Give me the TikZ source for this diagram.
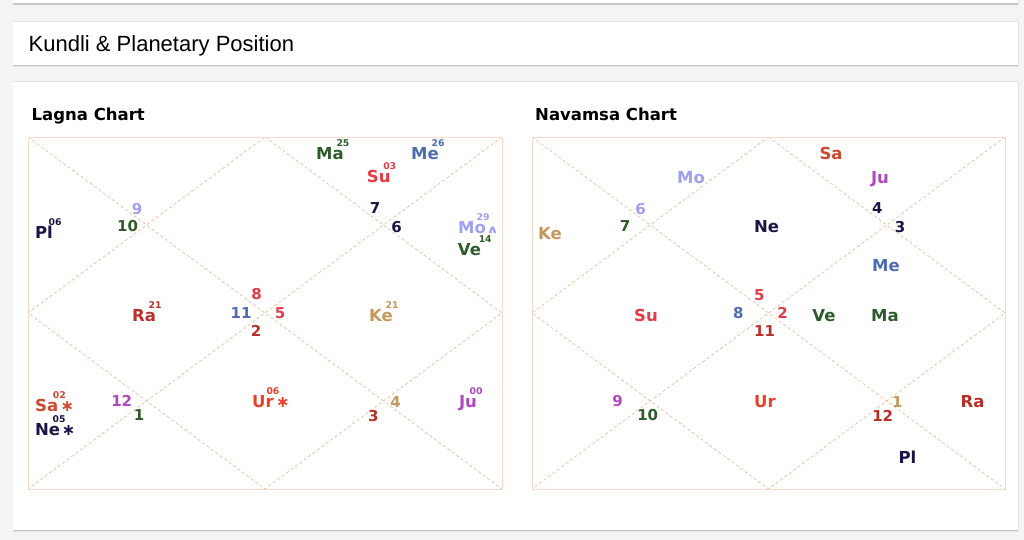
\documentclass[tikz,border=0pt]{standalone}
\usepackage{fontspec}
\setmainfont{DejaVu Sans}
\newfontfamily\hdrfont{Liberation Sans}
\definecolor{bgc}{HTML}{F4F4F4}
\definecolor{shd}{HTML}{C6C6C6}
\definecolor{shd2}{HTML}{E4E4E4}
\definecolor{frame}{HTML}{F8DCCB}
\definecolor{dash}{HTML}{F0C2A2}
\definecolor{navy}{HTML}{1C1446}
\definecolor{dgreen}{HTML}{2E5B2A}
\definecolor{pblue}{HTML}{4D6CB0}
\definecolor{pred}{HTML}{E23C48}
\definecolor{ured}{HTML}{E8402A}
\definecolor{sred}{HTML}{D04830}
\definecolor{dred}{HTML}{B8302A}
\definecolor{lpur}{HTML}{A0A0F0}
\definecolor{tan}{HTML}{C4975A}
\definecolor{ppur}{HTML}{B048C0}
\newcommand{\Pnum}[4]{\node[num,text=#3] (#1) at (#2) {#4};}
\newcommand{\Pplan}[6][-1pt]{\node[pl,text=#3] (#2) at (#4) {#5};\node[sup,text=#3] (#2s) at ([xshift=#1,yshift=0.5pt]#2.north east) {#6};}
\begin{document}
\begin{tikzpicture}[x=1pt,y=-1pt,
  pl/.style={font=\fontsize{16.5}{16.5}\selectfont\bfseries,inner sep=0pt,text height=12pt,text depth=0pt,anchor=center},
  num/.style={font=\fontsize{15}{15}\selectfont\bfseries,inner sep=0pt,text height=11pt,text depth=0pt,anchor=center},
  sup/.style={font=\fontsize{9.3}{9.3}\selectfont\bfseries,inner sep=0pt,text height=6.6pt,text depth=0pt,anchor=south},
  ast/.style={font=\fontsize{16}{16}\selectfont\bfseries,inner sep=0pt,anchor=base west},
  ttl/.style={font=\fontsize{16.5}{16.5}\selectfont\bfseries,inner sep=0pt,anchor=base west,text=black},
  card/.style={fill=white},
  frm/.style={draw=frame,line width=0.9pt},
  dsh/.style={draw=dash,line width=0.8pt,dash pattern=on 3pt off 2.5pt}]
\fill[bgc] (0,0) rectangle (1024,540);
\useasboundingbox (0,0) rectangle (1024,540);
% cards
\fill[shd2] (12.5,-10) rectangle (1018.5,5.5);
\fill[shd] (13,-10) rectangle (1018,5);
\fill[card] (13,-10) rectangle (1018,3.5);
\fill[shd2] (12.5,21.5) rectangle (1018.5,67);
\fill[shd] (13,22) rectangle (1018,66.5);
\fill[card] (13,22) rectangle (1018,65);
\fill[shd2] (12.5,81.5) rectangle (1018.5,531.5);
\fill[shd] (13,82) rectangle (1018,531);
\fill[card] (13,82) rectangle (1018,529.5);
\node[font=\hdrfont\fontsize{22}{22}\selectfont,inner sep=0pt,anchor=base west] (hdr) at (28.5,51.5) {Kundli \& Planetary Position};
% titles
\node[ttl] (t1) at (31.5,120.5) {Lagna Chart};
\node[ttl] (t2) at (535,120.5) {Navamsa Chart};
% chart geometry
\foreach \c/\xa/\xb in {L/28/502,R/532/1005}{
  \coordinate (\c-nw) at (\xa,137);
  \coordinate (\c-ne) at (\xb,137);
  \coordinate (\c-sw) at (\xa,489);
  \coordinate (\c-se) at (\xb,489);
  \coordinate (\c-n) at ({(\xa+\xb)/2},137);
  \coordinate (\c-s) at ({(\xa+\xb)/2},489);
  \coordinate (\c-w) at (\xa,313);
  \coordinate (\c-e) at (\xb,313);
  \draw[dsh] (\c-nw) -- (\c-se);
  \draw[dsh] (\c-ne) -- (\c-sw);
  \draw[dsh] (\c-n) -- (\c-e) -- (\c-s) -- (\c-w) -- cycle;
  \draw[frm] (\c-nw) rectangle (\c-se);
}
% Lagna numbers
\Pnum{l9}{137,209}{lpur}{9}
\Pnum{l10}{127.5,226}{dgreen}{10}
\Pnum{l8}{256.5,294}{pred}{8}
\Pnum{l11}{241,313.3}{pblue}{11}
\Pnum{l5}{280,313.3}{pred}{5}
\Pnum{l2}{256,330.7}{dred}{2}
\Pnum{l7}{375,208.3}{navy}{7}
\Pnum{l6}{396.7,227.3}{navy}{6}
\Pnum{l12}{121.7,400.7}{ppur}{12}
\Pnum{l1}{139,415}{dgreen}{1}
\Pnum{l3}{373.3,416}{dred}{3}
\Pnum{l4}{395.5,401.5}{tan}{4}
% Lagna planets
\Pplan[2pt]{lpl}{navy}{44,232.5}{Pl}{06}
\Pplan{lma}{dgreen}{330,153.3}{Ma}{25}
\Pplan{lme}{pblue}{425,153.3}{Me}{26}
\Pplan{lsu}{pred}{378.7,176.7}{Su}{03}
\Pplan[-3pt]{lmo}{lpur}{472,227}{Mo}{29}
\node[font=\fontsize{12}{12}\selectfont\bfseries,inner sep=0pt,anchor=base west,text=lpur] (lmor) at ([xshift=0.3pt]lmo.base east) {\scalebox{1.25}[0.9]{∧}};
\Pplan[4pt]{lve}{dgreen}{469.5,249}{Ve}{14}
\Pplan{lra}{dred}{144,315}{Ra}{21}
\Pplan{lke}{tan}{381,315}{Ke}{21}
\Pplan[1pt]{lsa}{sred}{46.7,405}{Sa}{02}
\node[ast,text=sred] (lsaa) at ([xshift=2pt]lsa.base east) {∗};
\Pplan{lne}{navy}{47.5,429}{Ne}{05}
\node[ast,text=navy] (lnea) at ([xshift=1.5pt]lne.base east) {∗};
\Pplan{lur}{ured}{263,401.7}{Ur}{06}
\node[ast,text=ured] (lura) at ([xshift=2pt]lur.base east) {∗};
\Pplan{lju}{ppur}{468,401}{Ju}{00}
% Navamsa numbers
\Pnum{r6}{640.7,209}{lpur}{6}
\Pnum{r7}{625,226}{dgreen}{7}
\Pnum{r5}{759.3,294.5}{pred}{5}
\Pnum{r8}{738.3,313.3}{pblue}{8}
\Pnum{r2}{782.7,313.3}{pred}{2}
\Pnum{r11}{764.5,330.7}{dred}{11}
\Pnum{r4}{877.3,208.3}{navy}{4}
\Pnum{r3}{900,227.3}{navy}{3}
\Pnum{r9}{617.7,400.7}{ppur}{9}
\Pnum{r10}{647.7,415}{dgreen}{10}
\Pnum{r1}{897.3,402}{tan}{1}
\Pnum{r12}{882.7,416}{dred}{12}
% Navamsa planets
\node[pl,text=lpur] (rmo) at (691,177) {Mo};
\node[pl,text=tan] (rke) at (550,233.3) {Ke};
\node[pl,text=navy] (rne) at (766.5,226.7) {Ne};
\node[pl,text=sred] (rsa) at (831,154) {Sa};
\node[pl,text=ppur] (rju) at (880,177.5) {Ju};
\node[pl,text=pblue] (rme) at (886,265.5) {Me};
\node[pl,text=pred] (rsu) at (646,315) {Su};
\node[pl,text=dgreen] (rve) at (824,315) {Ve};
\node[pl,text=dgreen] (rma) at (885,315) {Ma};
\node[pl,text=ured] (rur) at (765,401.7) {Ur};
\node[pl,text=dred] (rra) at (972.5,401.7) {Ra};
\node[pl,text=navy] (rpl) at (907.5,457) {Pl};
\end{tikzpicture}
\end{document}
